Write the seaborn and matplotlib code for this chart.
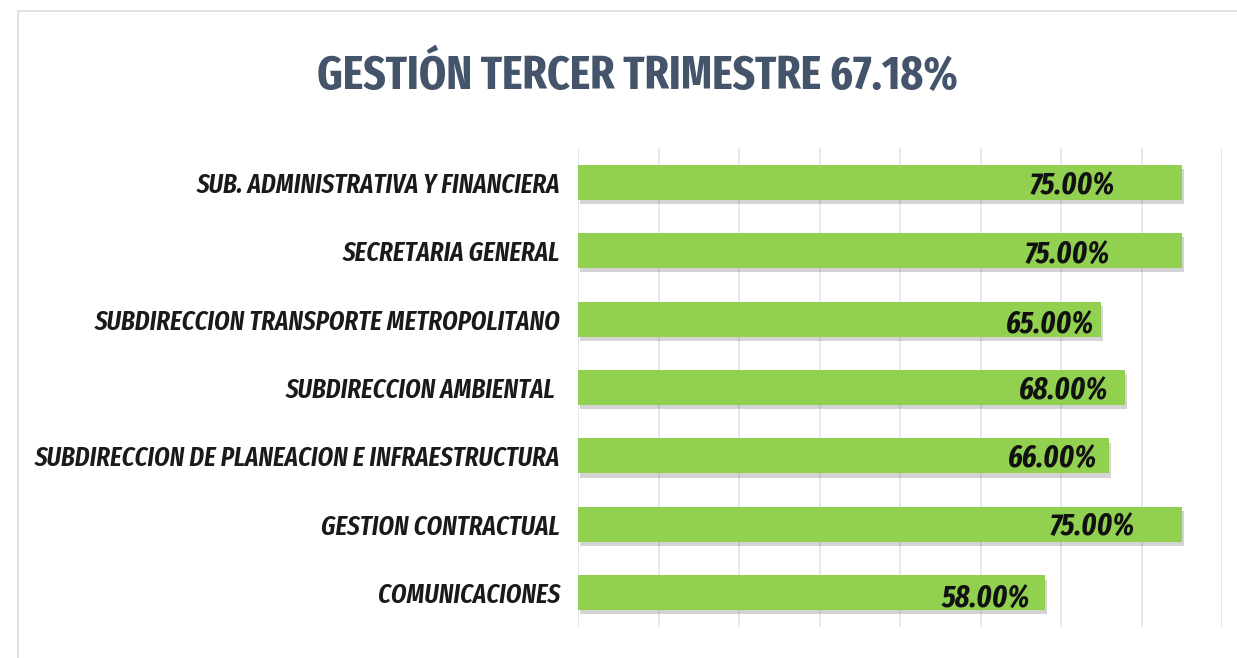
import matplotlib
matplotlib.use("Agg")
import matplotlib.pyplot as plt
import matplotlib.patheffects as pe
from matplotlib.patches import Rectangle
import seaborn as sns
import pandas as pd

# ---- data ----
categories = [
    "SUB. ADMINISTRATIVA Y FINANCIERA",
    "SECRETARIA GENERAL",
    "SUBDIRECCION TRANSPORTE METROPOLITANO",
    "SUBDIRECCION AMBIENTAL ",
    "SUBDIRECCION DE PLANEACION E INFRAESTRUCTURA",
    "GESTION CONTRACTUAL",
    "COMUNICACIONES",
]
values = [75.00, 75.00, 65.00, 68.00, 66.00, 75.00, 58.00]
title = "GESTIÓN TERCER TRIMESTRE 67.18%"

# label placement (style only): right-edge offset from bar end (in % units) and vertical nudge
label_dx = [-8.3, -8.9, -0.9, -2.1, -1.5, -5.8, -1.9]
label_dy = [0.07, 0.07, 0.09, 0.06, 0.06, 0.05, 0.10]

sns.set_theme(style="white")
FONT = ["Fira Sans Extra Condensed", "DejaVu Sans"]
plt.rcParams["font.family"] = FONT

fig = plt.figure(figsize=(12.37, 6.58), dpi=100)
fig.patch.set_facecolor("white")
fig.patches.append(Rectangle((18 / 1237, -0.1), 1.2, 1 - 11 / 658 + 0.1,
                             transform=fig.transFigure, fill=False,
                             edgecolor="#D9DEE4", linewidth=1.2))

ax = fig.add_axes([578 / 1237, 1 - 627 / 658, (1222 - 578) / 1237, (627 - 148) / 658])

df = pd.DataFrame({"cat": categories, "val": values})
sns.barplot(data=df, x="val", y="cat", orient="h", color="#92D050",
            saturation=1, width=0.51, ax=ax, zorder=3)

for p in ax.patches:
    p.set_linewidth(0)
    p.set_path_effects([pe.SimplePatchShadow(offset=(1.5, -3), shadow_rgbFace="#666666", alpha=0.28),
                        pe.Normal()])

for i, v in enumerate(values):
    ax.text(v + label_dx[i], i + label_dy[i], f"{v:.2f}%", ha="right", va="center",
            fontsize=22, fontweight="bold", fontstyle="italic", color="#111111",
            zorder=5)

ax.set_xlim(0, 80)
ax.set_ylim(6.5, -0.5)
ax.set_xticks(range(0, 81, 10))
ax.set_xticklabels([])
ax.grid(axis="x", color="#DCE3EE", linewidth=1.1, zorder=0)
ax.set_axisbelow(True)
for s in ax.spines.values():
    s.set_visible(False)
ax.set_xlabel("")
ax.set_ylabel("")
ax.tick_params(axis="y", length=0, pad=13)
ax.tick_params(axis="x", length=0)
for lbl in ax.get_yticklabels():
    lbl.set_fontsize(19.5)
    lbl.set_fontweight("semibold")
    lbl.set_fontstyle("italic")
    lbl.set_color("#1a1a1a")

fig.text(637 / 1237, 1 - 76 / 658, title, ha="center", va="center",
         fontsize=34, fontweight="bold", color="#44546A")

fig.savefig("out.png", dpi=100, facecolor="white")
